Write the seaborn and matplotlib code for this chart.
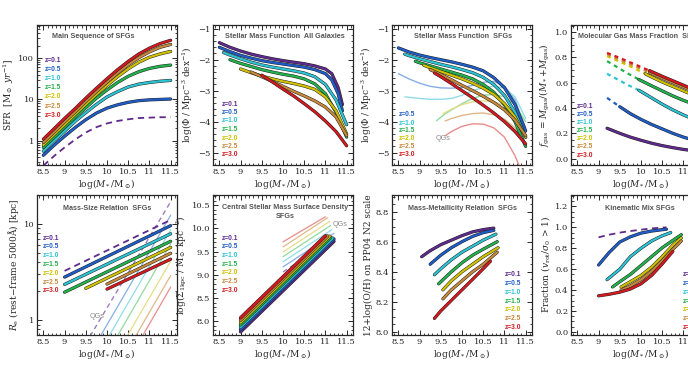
import matplotlib
matplotlib.use('Agg')
import matplotlib.pyplot as plt
import matplotlib.patheffects as pe
from matplotlib.ticker import MultipleLocator, FuncFormatter, LogLocator, NullFormatter
import seaborn as sns

# redshift bins and colours
zlabels = ['z=0.1', 'z=0.5', 'z=1.0', 'z=1.5', 'z=2.0', 'z=2.5', 'z=3.0']
zcolors = ['#5e2a8c', '#1f5cc6', '#2cc3d3', '#22b14c', '#cfc100', '#c8883a', '#d3191f']
qcolors = ['#9b7fbf', '#86aee6', '#8fdde4', '#93da9f', '#e6dc88', '#e0b888', '#ea8c8c']

# Panel 1: main sequence, log SFR per z (x = 8.5 .. 11.5 step 0.25)
ms_x = [8.5, 8.75, 9.0, 9.25, 9.5, 9.75, 10.0, 10.25, 10.5, 10.75, 11.0, 11.25, 11.5]
ms_logsfr = [
    [-0.60, -0.37, -0.16, 0.03, 0.20, 0.33, 0.42, 0.48, 0.52, 0.55, 0.56, 0.57, 0.57],
    [-0.35, -0.11, 0.11, 0.32, 0.51, 0.67, 0.79, 0.87, 0.93, 0.97, 0.99, 1.00, 1.01],
    [-0.25, 0.00, 0.23, 0.47, 0.68, 0.88, 1.06, 1.19, 1.30, 1.37, 1.41, 1.44, 1.46],
    [-0.16, 0.08, 0.33, 0.57, 0.80, 1.03, 1.23, 1.41, 1.56, 1.67, 1.75, 1.80, 1.83],
    [-0.10, 0.15, 0.39, 0.64, 0.88, 1.12, 1.34, 1.55, 1.74, 1.90, 2.02, 2.10, 2.16],
    [-0.04, 0.21, 0.46, 0.70, 0.95, 1.19, 1.42, 1.64, 1.84, 2.01, 2.15, 2.26, 2.33],
    [0.04, 0.29, 0.54, 0.78, 1.03, 1.27, 1.50, 1.72, 1.92, 2.10, 2.24, 2.35, 2.43],
]

# Panel 2: stellar mass function, all galaxies
smf_all_x = [
    [8.5, 8.75, 9.0, 9.25, 9.5, 9.75, 10.0, 10.25, 10.5, 10.75, 11.0, 11.15, 11.3, 11.4],
    [8.5, 8.75, 9.0, 9.25, 9.5, 9.75, 10.0, 10.25, 10.5, 10.75, 11.0, 11.15, 11.3, 11.4],
    [8.6, 8.75, 9.0, 9.25, 9.5, 9.75, 10.0, 10.25, 10.5, 10.75, 11.0, 11.25, 11.5],
    [8.75, 9.0, 9.25, 9.5, 9.75, 10.0, 10.25, 10.5, 10.75, 11.0, 11.25, 11.5],
    [9.0, 9.25, 9.5, 9.75, 10.0, 10.25, 10.5, 10.75, 11.0, 11.25, 11.5],
    [9.25, 9.5, 9.75, 10.0, 10.25, 10.5, 10.75, 11.0, 11.25, 11.5],
    [9.5, 9.75, 10.0, 10.25, 10.5, 10.75, 11.0, 11.25, 11.5],
]
smf_all_y = [
    [-1.45, -1.60, -1.72, -1.82, -1.90, -1.97, -2.03, -2.08, -2.13, -2.20, -2.30, -2.45, -2.90, -3.45],
    [-1.60, -1.74, -1.86, -1.95, -2.03, -2.09, -2.14, -2.19, -2.24, -2.32, -2.45, -2.65, -3.10, -3.65],
    [-1.77, -1.85, -1.97, -2.08, -2.17, -2.24, -2.30, -2.36, -2.43, -2.55, -2.80, -3.30, -4.10],
    [-2.00, -2.12, -2.22, -2.32, -2.40, -2.47, -2.53, -2.62, -2.78, -3.10, -3.70, -4.50],
    [-2.30, -2.42, -2.53, -2.62, -2.70, -2.77, -2.85, -2.96, -3.20, -3.65, -4.40],
    [-2.40, -2.55, -2.70, -2.86, -3.02, -3.17, -3.33, -3.53, -3.85, -4.45],
    [-2.50, -2.72, -2.95, -3.17, -3.42, -3.68, -3.98, -4.32, -4.78],
]

# Panel 3: stellar mass function, SFGs (z=0.5..3.0) and QGs (thin)
smf_sfg_x = [
    [8.5, 8.75, 9.0, 9.25, 9.5, 9.75, 10.0, 10.25, 10.5, 10.75, 11.0, 11.25, 11.5],
    [8.65, 8.75, 9.0, 9.25, 9.5, 9.75, 10.0, 10.25, 10.5, 10.75, 11.0, 11.25, 11.5],
    [8.9, 9.0, 9.25, 9.5, 9.75, 10.0, 10.25, 10.5, 10.75, 11.0, 11.25, 11.5],
    [9.1, 9.25, 9.5, 9.75, 10.0, 10.25, 10.5, 10.75, 11.0, 11.25, 11.5],
    [9.25, 9.5, 9.75, 10.0, 10.25, 10.5, 10.75, 11.0, 11.25, 11.5],
    [9.35, 9.5, 9.75, 10.0, 10.25, 10.5, 10.75, 11.0, 11.25, 11.5],
]
smf_sfg_y = [
    [-1.62, -1.75, -1.85, -1.93, -2.00, -2.07, -2.15, -2.24, -2.36, -2.58, -2.90, -3.45, -4.30],
    [-1.82, -1.87, -1.97, -2.06, -2.15, -2.23, -2.32, -2.42, -2.57, -2.80, -3.15, -3.70, -4.50],
    [-2.05, -2.10, -2.20, -2.30, -2.40, -2.50, -2.62, -2.80, -3.05, -3.45, -4.00, -4.80],
    [-2.18, -2.26, -2.38, -2.50, -2.62, -2.76, -2.92, -3.12, -3.42, -3.85, -4.50],
    [-2.32, -2.48, -2.65, -2.83, -3.00, -3.18, -3.38, -3.62, -3.95, -4.45],
    [-2.43, -2.55, -2.77, -3.00, -3.23, -3.47, -3.72, -4.00, -4.32, -4.72],
]
smf_qg_x = [
    [8.5, 8.75, 9.0, 9.25, 9.5, 9.75, 10.0, 10.25, 10.5, 10.75, 11.0, 11.25, 11.5],
    [8.65, 9.0, 9.25, 9.5, 9.75, 10.0, 10.25, 10.5, 10.75, 11.0, 11.25, 11.5],
    [9.4, 9.6, 9.8, 10.0, 10.25, 10.5, 10.75, 11.0, 11.25, 11.5],
    [9.55, 9.75, 10.0, 10.25, 10.5, 10.75, 11.0, 11.25, 11.5],
    [9.6, 9.75, 10.0, 10.25, 10.5, 10.75, 11.0, 11.25, 11.5],
    [9.6, 9.75, 10.0, 10.25, 10.5, 10.75, 11.0, 11.25, 11.4],
]
smf_qg_y = [
    [-2.45, -2.62, -2.76, -2.86, -2.91, -2.92, -2.90, -2.83, -2.73, -2.70, -2.85, -3.30, -4.20],
    [-3.20, -3.25, -3.28, -3.28, -3.25, -3.15, -3.00, -2.90, -2.86, -2.92, -3.20, -3.90],
    [-3.97, -3.75, -3.58, -3.42, -3.25, -3.15, -3.12, -3.20, -3.45, -4.00],
    [-3.75, -3.60, -3.45, -3.36, -3.33, -3.36, -3.48, -3.75, -4.30],
    [-3.98, -3.90, -3.80, -3.74, -3.72, -3.78, -3.92, -4.20, -4.70],
    [-4.46, -4.32, -4.15, -4.07, -4.08, -4.20, -4.50, -5.10, -5.60],
]

# Panel 4: molecular gas fraction (dashed = extrapolated, solid = measured)
fgas_dash_x = [[], [9.2, 9.35, 9.5], [9.2, 9.45, 9.7, 9.95], [9.2, 9.45, 9.7, 9.95],
               [9.2, 9.5, 9.8, 10.1], [9.2, 9.5, 9.85, 10.2], [9.2, 9.5, 9.85, 10.2]]
fgas_dash_y = [[], [0.48, 0.445, 0.41], [0.67, 0.625, 0.58, 0.54], [0.77, 0.72, 0.67, 0.625],
               [0.81, 0.765, 0.72, 0.67], [0.825, 0.78, 0.73, 0.68], [0.835, 0.795, 0.745, 0.695]]
fgas_x = [
    [9.2, 9.5, 9.75, 10.0, 10.25, 10.5, 10.75, 11.0, 11.25, 11.5],
    [9.5, 9.75, 10.0, 10.25, 10.5, 10.75, 11.0, 11.25, 11.5],
    [9.95, 10.25, 10.5, 10.75, 11.0, 11.25, 11.5],
    [9.95, 10.25, 10.5, 10.75, 11.0, 11.25, 11.5],
    [10.1, 10.25, 10.5, 10.75, 11.0, 11.25, 11.5],
    [10.2, 10.5, 10.75, 11.0, 11.25, 11.5],
    [10.2, 10.5, 10.75, 11.0, 11.25, 11.5],
]
fgas_y = [
    [0.24, 0.20, 0.17, 0.145, 0.122, 0.103, 0.087, 0.073, 0.062, 0.053],
    [0.41, 0.355, 0.31, 0.27, 0.235, 0.20, 0.17, 0.145, 0.125],
    [0.54, 0.48, 0.43, 0.385, 0.345, 0.31, 0.28],
    [0.625, 0.575, 0.535, 0.495, 0.46, 0.43, 0.40],
    [0.67, 0.645, 0.605, 0.57, 0.535, 0.50, 0.47],
    [0.68, 0.635, 0.60, 0.565, 0.53, 0.50],
    [0.695, 0.65, 0.615, 0.58, 0.545, 0.515],
]

# Panel 5: mass-size relation (straight lines in log-log, end points)
size_x = [[9.0, 11.5], [9.0, 11.5], [9.0, 11.5], [9.0, 11.5], [9.5, 11.5], [10.0, 11.5], [10.0, 11.5]]
size_re = [[3.25, 11.0], [2.8, 9.6], [2.35, 7.9], [1.95, 6.6], [2.14, 5.7], [2.37, 4.95], [2.1, 4.3]]
size_qg_x = [[9.6, 11.5], [9.8, 11.5], [10.0, 11.5], [10.2, 11.5], [10.43, 11.5], [10.63, 11.5], [10.79, 11.5]]
size_qg_re = [[0.68, 17.0], [0.63, 12.3], [0.63, 8.7], [0.63, 6.2], [0.63, 4.1], [0.63, 2.9], [0.63, 2.2]]

# Panel 6: central surface density
s1_x = [[9.0, 11.2], [9.0, 11.2], [9.0, 11.17], [9.0, 11.12], [9.0, 11.1], [9.0, 11.05], [9.0, 11.0]]
s1_y = [[7.77, 9.72], [7.82, 9.77], [7.87, 9.79], [7.92, 9.80], [7.97, 9.83], [8.02, 9.835], [8.07, 9.84]]
s1_qg_x = [[10.0, 11.2], [10.0, 11.2], [10.0, 11.15], [10.0, 11.12], [10.0, 11.1], [10.0, 11.05], [10.0, 11.0]]
s1_qg_y = [[9.06, 9.78], [9.17, 9.89], [9.28, 9.97], [9.39, 10.06], [9.49, 10.15], [9.60, 10.23], [9.71, 10.25]]

# Panel 7: mass-metallicity relation
mzr_x = [
    [9.05, 9.25, 9.5, 9.75, 10.0, 10.25, 10.5, 10.75],
    [9.25, 9.5, 9.75, 10.0, 10.25, 10.5, 10.75],
    [9.35, 9.5, 9.75, 10.0, 10.25, 10.5, 10.8],
    [9.45, 9.75, 10.0, 10.25, 10.5, 10.83],
    [9.55, 9.75, 10.0, 10.25, 10.5, 10.85],
    [9.55, 9.75, 10.0, 10.25, 10.5, 10.83],
    [9.35, 9.5, 9.75, 10.0, 10.25, 10.5, 10.67],
]
mzr_y = [
    [8.50, 8.54, 8.58, 8.61, 8.64, 8.665, 8.68, 8.69],
    [8.45, 8.51, 8.56, 8.60, 8.635, 8.66, 8.675],
    [8.38, 8.42, 8.48, 8.53, 8.57, 8.61, 8.65],
    [8.32, 8.40, 8.46, 8.51, 8.55, 8.60],
    [8.28, 8.34, 8.40, 8.45, 8.50, 8.56],
    [8.22, 8.28, 8.34, 8.40, 8.45, 8.53],
    [8.09, 8.14, 8.21, 8.28, 8.35, 8.42, 8.47],
]

# Panel 8: kinematic mix
kin_x = [
    [9.0, 9.25, 9.5, 9.75, 10.0, 10.25, 10.5, 10.6],
    [9.0, 9.25, 9.5, 9.75, 10.0, 10.25, 10.5, 10.6],
    [9.2, 9.5, 9.75, 10.0, 10.25, 10.5, 10.7],
    [9.33, 9.5, 9.75, 10.0, 10.25, 10.5, 10.75, 10.95],
    [9.53, 9.75, 10.0, 10.25, 10.5, 10.75, 10.95],
    [9.53, 9.75, 10.0, 10.25, 10.5, 10.75, 10.95],
    [9.0, 9.25, 9.5, 9.75, 10.0, 10.25, 10.5, 10.75],
]
kin_y = [
    [0.905, 0.93, 0.95, 0.965, 0.978, 0.99, 0.998, 1.0],
    [0.64, 0.76, 0.86, 0.91, 0.945, 0.965, 0.978, 0.982],
    [0.50, 0.60, 0.72, 0.80, 0.87, 0.92, 0.95],
    [0.43, 0.48, 0.55, 0.635, 0.72, 0.805, 0.875, 0.93],
    [0.43, 0.48, 0.54, 0.62, 0.72, 0.83, 0.90],
    [0.40, 0.44, 0.50, 0.58, 0.68, 0.79, 0.87],
    [0.345, 0.36, 0.38, 0.41, 0.46, 0.54, 0.65, 0.77],
]

# ---------------------------------------------------------------- style
sns.set_style('ticks')
plt.rcParams['font.family'] = ['DejaVu Serif']
plt.rcParams['mathtext.fontset'] = 'dejavuserif'
plt.rcParams['xtick.direction'] = 'in'
plt.rcParams['ytick.direction'] = 'in'
plt.rcParams['xtick.top'] = True
plt.rcParams['ytick.right'] = True

W, H = 688, 375
fig = plt.figure(figsize=(W / 100, H / 100), dpi=100)

col_x = [37, 213, 392, 571]
row_y = [25, 195]
pw, ph = 140, 140


def panel(col, row):
    l = col_x[col] / W
    b = 1 - (row_y[row] + ph) / H
    ax = fig.add_axes([l, b, pw / W, ph / H])
    for s in ax.spines.values():
        s.set_linewidth(0.9)
    ax.tick_params(which='major', length=3.5, width=0.7, labelsize=6, pad=2)
    ax.tick_params(which='minor', length=1.8, width=0.6)
    ax.set_xlim(8.35, 11.65)
    ax.xaxis.set_major_locator(MultipleLocator(0.5))
    ax.xaxis.set_minor_locator(MultipleLocator(0.1))
    ax.xaxis.set_major_formatter(FuncFormatter(lambda v, p: '%g' % v))
    ax.set_xlabel(r'log($M_*$/M$_\odot$)', fontsize=6.5, labelpad=1)
    return ax


def thick(ax, x, y, c, lw=1.6, ls='-'):
    sns.lineplot(x=x, y=y, ax=ax, color=c, lw=lw, linestyle=ls, sort=False,
                 estimator=None, legend=False,
                 path_effects=[pe.Stroke(linewidth=lw + 0.7, foreground='#222222'), pe.Normal()])


def thin(ax, x, y, c, lw=0.9, ls='-'):
    sns.lineplot(x=x, y=y, ax=ax, color=c, lw=lw, linestyle=ls, sort=False,
                 estimator=None, legend=False)


def dashed(ax, x, y, c, lw=1.3):
    sns.lineplot(x=x, y=y, ax=ax, color=c, lw=lw, dashes=False, sort=False,
                 estimator=None, legend=False, linestyle=(0, (3.5, 2.5)))


def title(px, py, s, ha='left'):
    fig.text(px / W, 1 - py / H, s, fontsize=5.2, fontweight='bold', color='#555555',
             family='Liberation Sans', ha=ha, va='center')


def zlegend(px, py, step, first=0):
    for i in range(first, 7):
        fig.text(px / W, 1 - (py + (i - first) * step) / H, zlabels[i], fontsize=4.8,
                 fontweight='bold', color=zcolors[i], family='Liberation Sans', va='center')


def qglabel(px, py):
    fig.text(px / W, 1 - py / H, 'QGs', fontsize=5.2, color='#8a8a8a',
             family='Liberation Sans', va='center')


# ---------------------------------------------------------------- panel 1
ax = panel(0, 0)
ax.set_yscale('log')
dashed(ax, ms_x, [10 ** v for v in ms_logsfr[0]], zcolors[0], lw=1.3)
for i in range(1, 7):
    thick(ax, ms_x, [10 ** v for v in ms_logsfr[i]], zcolors[i])
ax.set_ylim(0.26, 630)
ax.yaxis.set_major_formatter(FuncFormatter(lambda v, p: '%g' % v))
ax.yaxis.set_minor_formatter(NullFormatter())
ax.yaxis.set_minor_locator(LogLocator(subs=range(2, 10)))
ax.set_ylabel(r'SFR  [M$_\odot$ $yr^{-1}$]', fontsize=6.5, labelpad=2)
title(52, 37, 'Main Sequence of SFGs')
zlegend(45, 60, 9.2)

# ---------------------------------------------------------------- panel 2
ax = panel(1, 0)
for i in range(7):
    thick(ax, smf_all_x[i], smf_all_y[i], zcolors[i])
ax.set_ylim(-5.4, -0.88)
ax.yaxis.set_major_locator(MultipleLocator(1))
ax.yaxis.set_minor_locator(MultipleLocator(0.2))
ax.set_ylabel(r'log($\Phi$ / Mpc$^{-3}$ dex$^{-1}$)', fontsize=6.5, labelpad=2)
title(225, 37, 'Stellar Mass Function  All Galaxies')
zlegend(222, 104, 8.5)

# ---------------------------------------------------------------- panel 3
ax = panel(2, 0)
for i in range(6):
    thin(ax, smf_qg_x[i], smf_qg_y[i], qcolors[i + 1], lw=1.0)
for i in range(6):
    thick(ax, smf_sfg_x[i], smf_sfg_y[i], zcolors[i + 1])
ax.set_ylim(-5.4, -0.88)
ax.yaxis.set_major_locator(MultipleLocator(1))
ax.yaxis.set_minor_locator(MultipleLocator(0.2))
ax.set_ylabel(r'log($\Phi$ / Mpc$^{-3}$ dex$^{-1}$)', fontsize=6.5, labelpad=2)
title(414, 37, 'Stellar Mass Function  SFGs')
zlegend(399, 115, 8.0, first=1)
qglabel(436, 138)

# ---------------------------------------------------------------- panel 4
ax = panel(3, 0)
for i in range(7):
    if fgas_dash_x[i]:
        sns.lineplot(x=fgas_dash_x[i], y=fgas_dash_y[i], ax=ax, color=zcolors[i], lw=1.6,
                     sort=False, estimator=None, legend=False, linestyle=(0, (1.8, 1.8)))
    thick(ax, fgas_x[i], fgas_y[i], zcolors[i])
ax.set_ylim(-0.05, 1.055)
ax.yaxis.set_major_locator(MultipleLocator(0.2))
ax.yaxis.set_minor_locator(MultipleLocator(0.05))
ax.yaxis.set_major_formatter(FuncFormatter(lambda v, p: '%.1f' % v))
ax.set_ylabel(r'$f_{\rm gas}$ = $M_{\rm gas}$/($M_*$+$M_{\rm gas}$)', fontsize=6.5, labelpad=2)
title(578, 37, 'Molecular Gas Mass Fraction  SFGs')
zlegend(577, 106, 8.2)

# ---------------------------------------------------------------- panel 5
ax = panel(0, 1)
ax.set_yscale('log')
dashed(ax, size_qg_x[0], size_qg_re[0], qcolors[0], lw=1.0)
for i in range(1, 7):
    thin(ax, size_qg_x[i], size_qg_re[i], qcolors[i])
dashed(ax, size_x[0], size_re[0], zcolors[0], lw=1.3)
for i in range(1, 7):
    thick(ax, size_x[i], size_re[i], zcolors[i])
ax.set_ylim(0.7, 20)
ax.yaxis.set_major_formatter(FuncFormatter(lambda v, p: '%g' % v))
ax.yaxis.set_minor_formatter(NullFormatter())
ax.yaxis.set_minor_locator(LogLocator(subs=range(2, 10)))
ax.set_ylabel(r'$R_{\rm e}$ (rest$-$frame 5000$\rm\AA$) [kpc]', fontsize=6.5, labelpad=2)
title(63, 208, 'Mass-Size Relation  SFGs')
zlegend(43, 238, 8.8)
qglabel(90, 317)

# ---------------------------------------------------------------- panel 6
ax = panel(1, 1)
dashed(ax, s1_qg_x[0], s1_qg_y[0], qcolors[0], lw=1.0)
for i in range(1, 7):
    thin(ax, s1_qg_x[i], s1_qg_y[i], qcolors[i])
for i in range(7):
    thick(ax, s1_x[i], s1_y[i], zcolors[i], lw=1.8)
ax.set_ylim(7.7, 10.72)
ax.yaxis.set_major_locator(MultipleLocator(0.5))
ax.yaxis.set_minor_locator(MultipleLocator(0.1))
ax.yaxis.set_major_formatter(FuncFormatter(lambda v, p: '%.1f' % v))
ax.set_ylabel(r'log($\Sigma_{\rm 1kpc}$ / M$_\odot$ kpc$^{-2}$)', fontsize=6.5, labelpad=2)
title(222, 207, 'Central Stellar Mass Surface Density')
title(285, 217, 'SFGs', ha='center')
zlegend(222, 238, 8.7)
qglabel(333, 224)

# ---------------------------------------------------------------- panel 7
ax = panel(2, 1)
for i in range(7):
    thick(ax, mzr_x[i], mzr_y[i], zcolors[i])
ax.set_ylim(7.98, 8.91)
ax.yaxis.set_major_locator(MultipleLocator(0.2))
ax.yaxis.set_minor_locator(MultipleLocator(0.05))
ax.yaxis.set_major_formatter(FuncFormatter(lambda v, p: '%.1f' % v))
ax.set_ylabel('12+log(O/H) on PP04 N2 scale', fontsize=6.5, labelpad=2)
title(408, 208, 'Mass-Metallicity Relation  SFGs')
zlegend(505, 275, 8.7)

# ---------------------------------------------------------------- panel 8
ax = panel(3, 1)
dashed(ax, kin_x[0], kin_y[0], zcolors[0], lw=1.3)
for i in range(1, 7):
    thick(ax, kin_x[i], kin_y[i], zcolors[i])
ax.set_ylim(-0.03, 1.31)
ax.yaxis.set_major_locator(MultipleLocator(0.2))
ax.yaxis.set_minor_locator(MultipleLocator(0.05))
ax.yaxis.set_major_formatter(FuncFormatter(lambda v, p: '%.1f' % v))
ax.set_ylabel(r'Fraction ($v_{\rm rot}/\sigma_0$ > 1)', fontsize=6.5, labelpad=2)
title(605, 208, 'Kinematic Mix SFGs')
zlegend(683, 275, 8.7)

fig.savefig('out.png', dpi=100)
